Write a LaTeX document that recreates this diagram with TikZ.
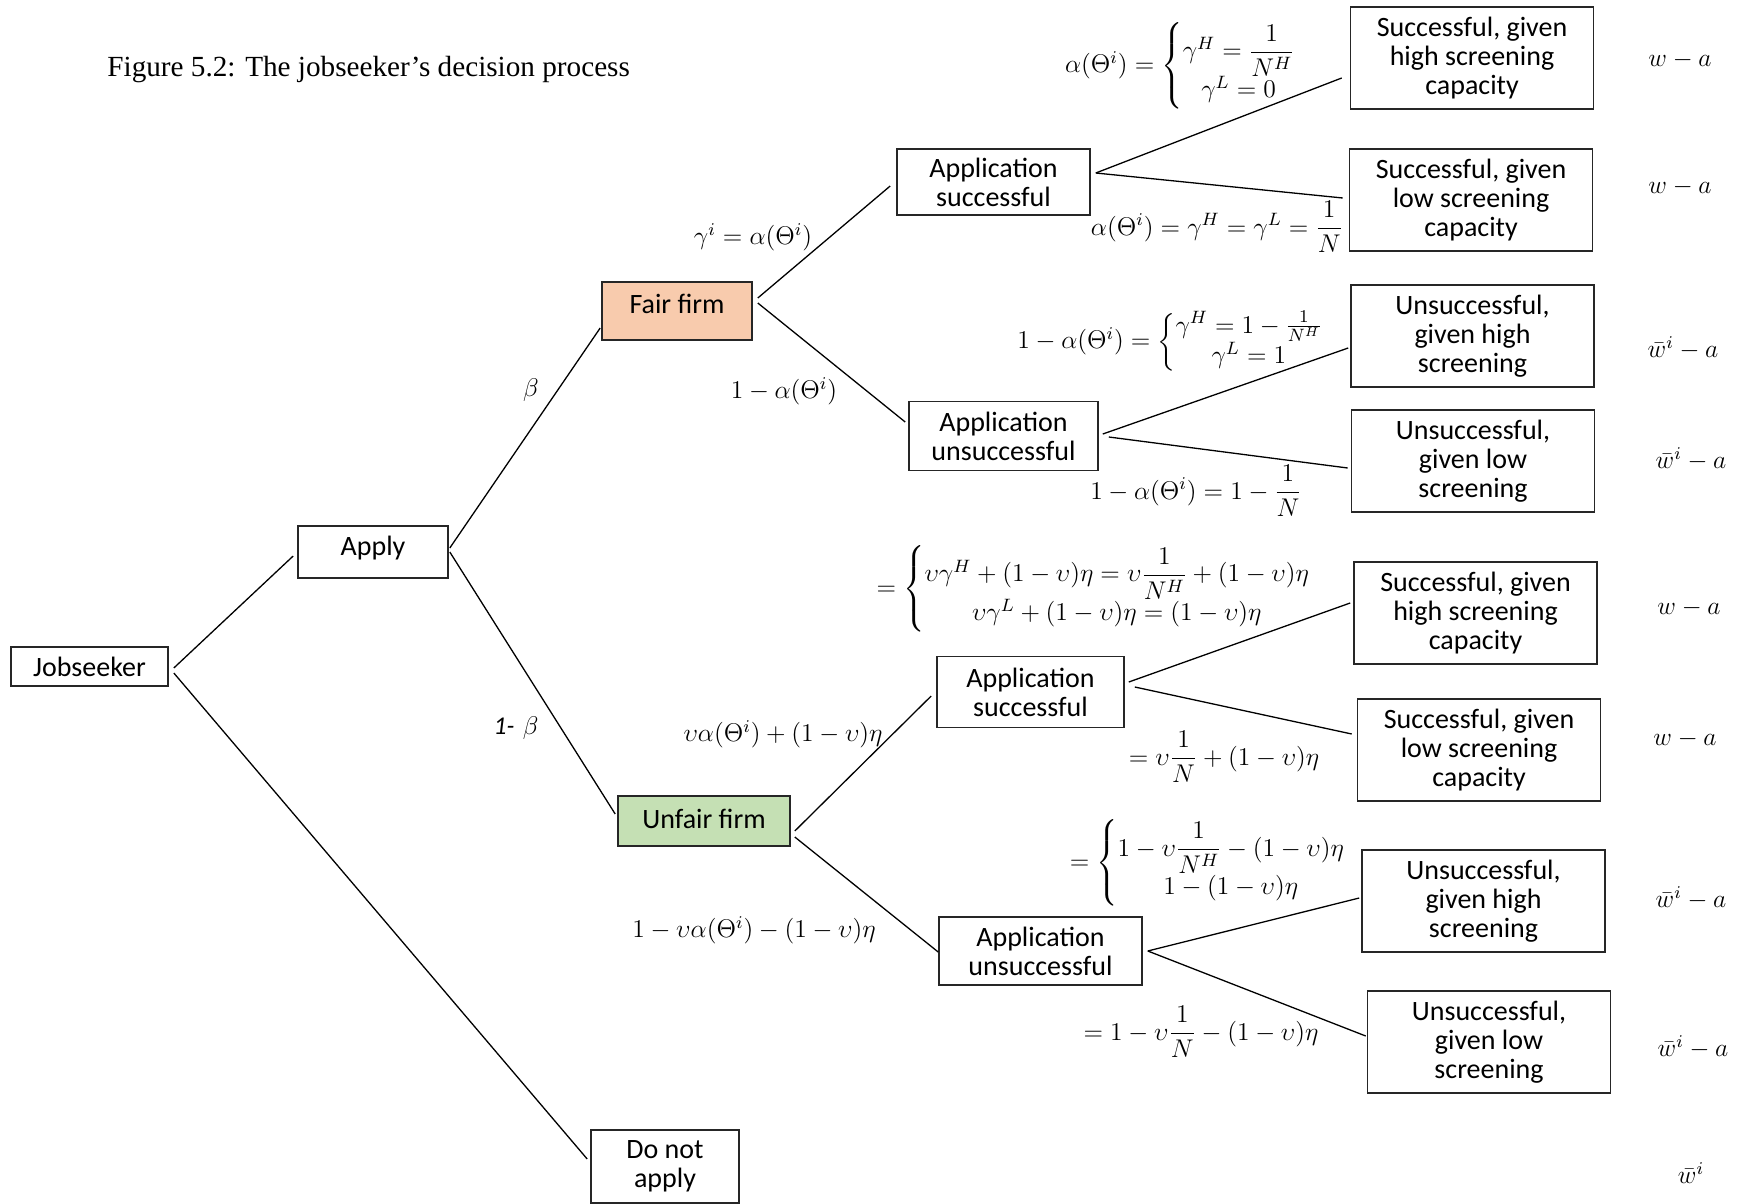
\RequirePackage{fix-cm}
\documentclass[tikz,border=0pt]{standalone}
\usepackage{amsmath}
\usepackage{fontspec}
\setsansfont{Carlito}
\newfontfamily\captionfont{Liberation Serif}
\usetikzlibrary{calc}

\newcommand{\cas}[1]{\left\{\begin{array}{@{}c@{}}#1\end{array}\right.}

\begin{document}
\begin{tikzpicture}[x=0.5pt,y=-0.5pt,
  box/.style={draw=black!85, line width=0.8pt, align=center, inner sep=0pt,
    font=\sffamily\fontsize{14}{14.5}\selectfont},
  leaf/.style={box, minimum width=121.5pt, minimum height=51pt},
  link/.style={line width=0.65pt},
  lab/.style={inner sep=0pt, font=\fontsize{12.8}{15}\selectfont},
  pay/.style={inner sep=0pt, font=\fontsize{12.8}{15}\selectfont}]
\path[use as bounding box] (0,0) rectangle (1742,1204);

% caption
\node[anchor=west, inner sep=0pt, font=\captionfont\fontsize{14.6}{16}\selectfont] (cap) at (107,70)
  {Figure 5.2: The jobseeker’s decision process};

% decision nodes
\node[box, minimum width=78.5pt, minimum height=19.5pt] (js) at (89.5,666.5) {Jobseeker};
\node[box, minimum width=75pt, minimum height=26pt] (apply) at (373,552) {\raisebox{2pt}[\height][\depth]{Apply}};
\node[box, minimum width=75pt, minimum height=29pt, fill={rgb,255:red,248;green,203;blue,173}] (fair) at (677,311)
  {\raisebox{3.5pt}[\height][\depth]{Fair firm}};
\node[box, minimum width=86pt, minimum height=25pt, fill={rgb,255:red,197;green,224;blue,180}] (unfair) at (704,821) {\raisebox{1pt}[\height][\depth]{Unfair firm}};
\node[box, minimum width=74pt, minimum height=36.5pt] (donot) at (665,1166.5) {Do not\\apply};

\node[box, minimum width=96.5pt, minimum height=33pt] (s1) at (993.5,182) {Application\\successful};
\node[box, minimum width=94.5pt, minimum height=34.5pt] (u1) at (1003.5,436) {Application\\unsuccessful};
\node[box, minimum width=93.5pt, minimum height=35.5pt] (s2) at (1030.5,692) {Application\\successful};
\node[box, minimum width=101.5pt, minimum height=34pt] (u2) at (1040.5,951) {Application\\unsuccessful};

% outcomes
\node[leaf] (l1) at (1472,58) {Successful, given\\high screening\\capacity};
\node[leaf] (l2) at (1471,200) {Successful, given\\low screening\\capacity};
\node[leaf] (l3) at (1472.5,336) {Unsuccessful,\\given high\\screening};
\node[leaf] (l4) at (1473,461) {Unsuccessful,\\given low\\screening};
\node[leaf] (l5) at (1475.5,613) {Successful, given\\high screening\\capacity};
\node[leaf] (l6) at (1479,750) {Successful, given\\low screening\\capacity};
\node[leaf] (l7) at (1483.5,901) {Unsuccessful,\\given high\\screening};
\node[leaf] (l8) at (1489,1042) {Unsuccessful,\\given low\\screening};

% branches
\draw[link] ($(js.east)+(5,1.5)$) -- ($(apply.west)+(-4,4)$);
\draw[link] ($(js.east)+(5,6.5)$) -- ($(donot.west)+(-3,-7.5)$);
\draw[link] ($(apply.east)+(1,-4)$) -- ($(fair.west)+(-1,17)$);
\draw[link] ($(apply.east)+(1,0)$) -- ($(unfair.west)+(-2,-7)$);
\draw[link] ($(fair.east)+(5,-13)$) -- ($(s1.west)+(-6,4)$);
\draw[link] ($(fair.east)+(5,-8)$) -- ($(u1.west)+(-3,-14)$);
\draw[link] ($(unfair.east)+(4,10)$) -- ($(s2.west)+(-5,4)$);
\draw[link] ($(unfair.east)+(4,16)$) -- ($(u2.west)+(0,1)$);
\draw[link] ($(s1.east)+(5,-9)$) -- ($(l1.west)+(-8,20)$);
\draw[link] ($(s1.east)+(5,-9)$) -- ($(l2.west)+(-6,-2)$);
\draw[link] ($(u1.east)+(4,-2)$) -- ($(l3.west)+(-2,12)$);
\draw[link] ($(u1.east)+(10,1)$) -- ($(l4.west)+(-3,7)$);
\draw[link] ($(s2.east)+(4,-10)$) -- ($(l5.west)+(-3,-10)$);
\draw[link] ($(s2.east)+(10,-5)$) -- ($(l6.west)+(-5,-16)$);
\draw[link] ($(u2.east)+(5,0)$) -- ($(l7.west)+(-2,-3)$);
\draw[link] ($(u2.east)+(5,0)$) -- ($(l8.west)+(-1,-6)$);

% branch probabilities
\node[lab] (pb) at (531,390) {$\beta$};
\node[lab] (pnb) at (516,728) {{\sffamily\itshape 1-} $\beta$};
\node[lab] (pa) at (753,237) {$\gamma^i=\alpha(\Theta^i)$};
\node[lab] (pna) at (784,391) {$1-\alpha(\Theta^i)$};
\node[lab] (pua) at (783,734) {$\upsilon\alpha(\Theta^i)+(1-\upsilon)\eta$};
\node[lab] (puna) at (754,930) {$1-\upsilon\alpha(\Theta^i)-(1-\upsilon)\eta$};

\node[lab] (e1) at (1181,66) {$\alpha(\Theta^i)=\cas{\gamma^H=\dfrac{1}{N^H}\\ \gamma^L=0}$};
\node[lab] (e2) at (1217,227) {$\alpha(\Theta^i)=\gamma^H=\gamma^L=\dfrac{1}{N}$};
\node[lab] (e3) at (1171,342) {$1-\alpha(\Theta^i)=\cas{\gamma^H=1-\frac{1}{N^H}\\ \gamma^L=1}$};
\node[lab] (e4) at (1196,491) {$1-\alpha(\Theta^i)=1-\dfrac{1}{N}$};
\node[lab] (e5) at (1094,589) {$=\cas{\upsilon\gamma^H+(1-\upsilon)\eta=\upsilon\dfrac{1}{N^H}+(1-\upsilon)\eta\\ \upsilon\gamma^L+(1-\upsilon)\eta=(1-\upsilon)\eta}$};
\node[lab] (e6) at (1224,757) {$=\upsilon\dfrac{1}{N}+(1-\upsilon)\eta$};
\node[lab] (e7) at (1208,863) {$=\cas{1-\upsilon\dfrac{1}{N^H}-(1-\upsilon)\eta\\ 1-(1-\upsilon)\eta}$};
\node[lab] (e8) at (1201,1032) {$=1-\upsilon\dfrac{1}{N}-(1-\upsilon)\eta$};

% payoffs
\node[pay] (w1) at (1680,60) {$w-a$};
\node[pay] (w2) at (1680,187) {$w-a$};
\node[pay] (w3) at (1683,348) {$\bar{w}^i-a$};
\node[pay] (w4) at (1691,459) {$\bar{w}^i-a$};
\node[pay] (w5) at (1689,608) {$w-a$};
\node[pay] (w6) at (1685,739) {$w-a$};
\node[pay] (w7) at (1691,898) {$\bar{w}^i-a$};
\node[pay] (w8) at (1693,1047) {$\bar{w}^i-a$};
\node[pay] (w9) at (1691,1173) {$\bar{w}^i$};
\end{tikzpicture}
\end{document}
